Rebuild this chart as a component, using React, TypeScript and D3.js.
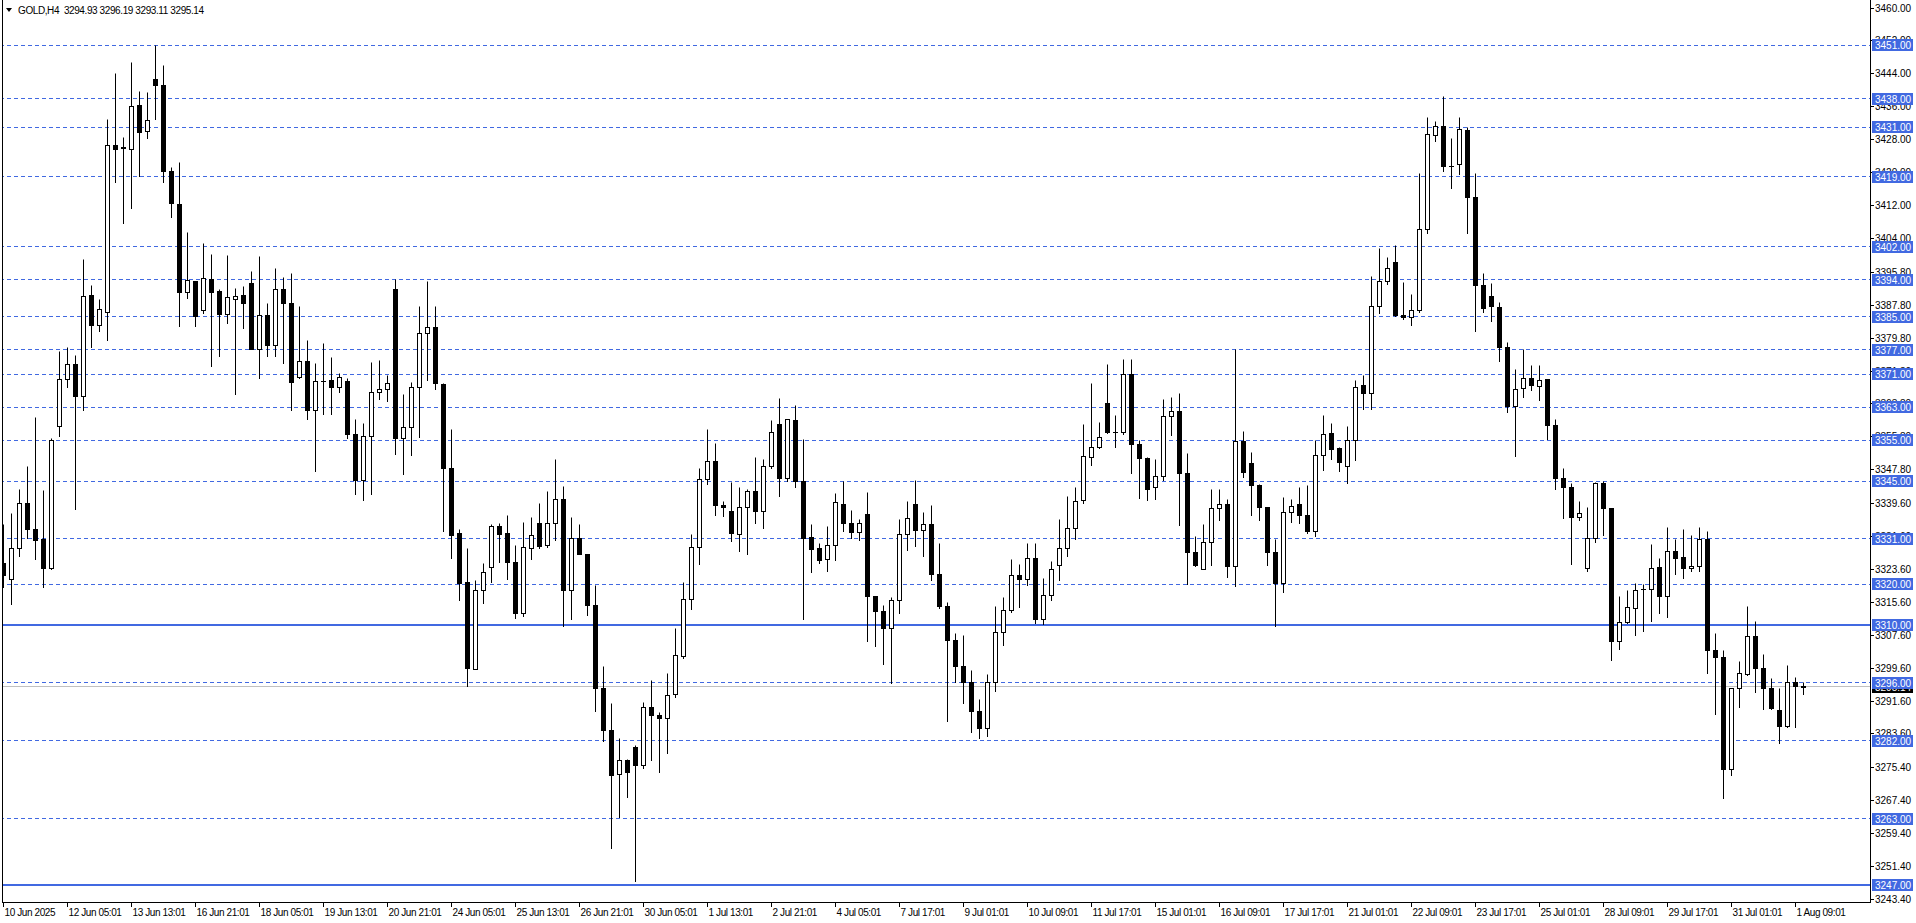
import React from "react";
import * as d3 from "d3";

const opens = [3325.1,3321.1,3328.6,3339.5,3333.2,3330.9,3323.7,3358.2,3369.7,3373.5,3365.5,3390.1,3382.9,3386.0,3426.6,3425.9,3425.7,3436.3,3430.0,3442.7,3441.2,3420.3,3412.2,3390.8,3393.5,3386.4,3394.0,3391.1,3385.6,3389.3,3390.1,3393.0,3377.0,3385.4,3377.9,3391.6,3388.2,3370.2,3374.1,3362.1,3369.2,3369.4,3367.7,3369.2,3356.4,3345.1,3355.8,3366.5,3367.2,3391.6,3355.5,3358.0,3367.7,3380.8,3382.3,3368.6,3348.1,3332.2,3320.5,3299.3,3318.5,3324.1,3334.1,3332.3,3325.3,3312.8,3328.7,3334.8,3329.4,3334.8,3340.6,3318.4,3331.1,3327.1,3314.8,3294.7,3284.5,3273.8,3277.2,3280.3,3275.9,3290.1,3288.1,3287.4,3293.2,3302.4,3316.3,3328.9,3345.5,3349.8,3339.2,3337.7,3332.1,3338.7,3342.5,3337.6,3348.6,3358.8,3345.6,3359.8,3345.0,3331.4,3328.7,3326.0,3329.4,3339.4,3334.8,3332.6,3337.0,3317.0,3313.4,3309.3,3316.0,3332.0,3339.4,3333.0,3334.6,3322.4,3314.6,3306.3,3300.0,3296.0,3289.0,3285.0,3296.0,3308.2,3313.7,3322.2,3321.2,3326.3,3311.3,3317.3,3324.6,3328.7,3333.6,3340.3,3350.7,3353.3,3364.0,3356.9,3356.9,3371.0,3354.0,3350.6,3343.5,3346.1,3360.7,3361.9,3346.9,3327.7,3323.5,3330.2,3338.4,3339.4,3324.2,3354.7,3349.4,3344.0,3338.7,3327.8,3320.1,3337.3,3339.4,3336.7,3332.8,3351.3,3356.7,3352.9,3348.6,3355.0,3368.2,3366.4,3387.5,3393.6,3398.2,3385.4,3384.7,3386.4,3406.2,3429.0,3431.1,3421.6,3421.9,3430.3,3413.9,3392.7,3389.8,3387.3,3377.4,3363.2,3367.5,3369.9,3368.1,3369.7,3358.6,3345.8,3343.5,3336.3,3323.7,3331.1,3344.5,3338.5,3306.1,3310.7,3314.2,3318.7,3318.7,3324.1,3317.1,3328.0,3326.6,3323.8,3324.3,3330.9,3303.8,3302.2,3275.0,3294.7,3298.1,3307.3,3299.5,3294.7,3289.4,3285.5,3296.1,3294.93];
const highs = [3334.4,3337.1,3343.0,3348.5,3360.5,3342.8,3355.3,3376.6,3377.5,3375.6,3398.9,3392.7,3389.2,3433.0,3444.1,3428.5,3446.8,3439.7,3439.6,3451.0,3446.1,3421.3,3422.5,3405.4,3393.5,3402.7,3400.1,3391.7,3399.9,3391.9,3392.4,3396.0,3399.7,3388.2,3396.7,3394.5,3395.6,3387.6,3379.1,3373.6,3378.6,3375.2,3371.3,3370.1,3360.1,3359.1,3373.8,3374.3,3370.8,3394.0,3366.1,3369.0,3387.6,3393.6,3387.6,3368.8,3357.5,3333.2,3328.7,3320.9,3325.1,3334.4,3334.8,3336.8,3329.3,3335.1,3336.1,3339.7,3342.6,3350.2,3343.8,3336.3,3334.6,3327.1,3319.8,3299.9,3290.9,3282.5,3277.4,3280.7,3291.2,3296.7,3288.8,3298.3,3309.3,3320.5,3332.1,3348.0,3357.6,3354.3,3340.1,3344.6,3343.6,3342.9,3350.9,3350.3,3359.8,3365.1,3360.0,3363.5,3355.2,3334.5,3329.9,3333.9,3342.1,3345.0,3338.0,3335.7,3342.4,3317.0,3314.9,3316.8,3335.6,3340.2,3345.3,3337.4,3339.2,3329.8,3315.6,3307.9,3307.6,3299.0,3292.0,3298.0,3314.5,3316.7,3325.9,3324.9,3330.0,3330.0,3321.4,3325.6,3335.8,3341.4,3343.6,3358.9,3368.7,3359.4,3373.5,3361.1,3374.7,3374.5,3354.9,3350.9,3350.2,3364.9,3365.4,3366.4,3351.8,3331.7,3334.5,3342.9,3342.9,3340.6,3377.1,3357.2,3351.9,3344.3,3338.7,3330.8,3341.0,3340.7,3343.6,3343.9,3354.8,3361.1,3359.0,3353.3,3358.2,3369.4,3370.6,3394.8,3401.5,3399.5,3402.2,3393.3,3390.5,3419.9,3433.3,3432.4,3438.6,3428.3,3433.5,3431.0,3419.8,3395.6,3393.0,3388.5,3378.7,3372.1,3377.1,3373.2,3373.1,3369.7,3359.9,3348.0,3344.5,3340.0,3338.6,3344.8,3345.0,3338.5,3317.1,3318.5,3320.1,3320.0,3329.7,3326.2,3333.8,3330.8,3333.3,3331.9,3333.8,3332.7,3308.1,3303.8,3294.7,3301.2,3314.6,3311.0,3302.8,3297.0,3294.7,3300.2,3297.4,3296.19];
const lows = [3319.3,3315.1,3326.8,3331.1,3326.0,3319.3,3323.5,3355.9,3367.7,3338.2,3362.3,3377.5,3381.5,3379.3,3417.7,3407.6,3411.3,3419.0,3428.3,3432.9,3417.7,3409.2,3382.5,3389.5,3382.5,3385.8,3373.0,3375.4,3383.3,3366.0,3382.1,3377.0,3369.9,3375.4,3375.4,3373.6,3362.3,3369.9,3359.9,3347.3,3361.3,3361.3,3366.5,3355.5,3341.9,3340.3,3341.9,3364.9,3364.4,3351.6,3346.6,3351.3,3355.7,3369.5,3367.2,3332.7,3326.3,3316.0,3295.1,3299.3,3315.2,3320.3,3325.2,3321.2,3311.6,3312.1,3325.9,3328.6,3328.9,3330.7,3309.7,3311.5,3327.1,3312.5,3289.0,3281.7,3255.7,3263.2,3268.1,3247.7,3275.1,3277.1,3274.2,3278.8,3292.4,3301.9,3313.8,3324.7,3344.2,3336.6,3336.4,3330.3,3328.0,3327.1,3334.7,3333.5,3348.1,3341.2,3345.0,3343.4,3311.4,3322.8,3325.0,3323.0,3325.7,3332.7,3331.0,3330.6,3306.0,3304.8,3300.4,3295.9,3312.8,3328.1,3329.1,3326.7,3320.9,3314.0,3286.7,3296.0,3291.0,3284.0,3282.5,3283.0,3294.0,3305.0,3313.0,3314.3,3319.7,3310.5,3310.3,3316.1,3321.0,3326.7,3330.9,3339.7,3348.8,3353.0,3356.7,3353.2,3356.3,3346.8,3340.8,3340.3,3340.6,3345.2,3356.1,3334.2,3320.0,3324.3,3323.5,3324.5,3335.4,3321.6,3319.5,3345.9,3336.7,3335.4,3324.5,3309.8,3318.0,3335.1,3334.7,3332.4,3331.5,3347.6,3350.2,3347.3,3344.4,3350.0,3362.4,3362.4,3385.7,3392.8,3385.0,3384.4,3382.9,3385.9,3405.3,3427.5,3420.4,3416.2,3419.5,3405.3,3381.4,3385.9,3383.8,3374.2,3361.7,3351.1,3365.4,3367.1,3364.7,3355.1,3342.9,3336.0,3324.9,3335.5,3323.2,3330.2,3331.9,3301.4,3304.1,3310.5,3307.6,3308.5,3310.9,3312.8,3311.8,3322.3,3321.5,3323.2,3323.0,3298.3,3288.4,3267.9,3273.5,3290.0,3297.9,3293.6,3289.5,3289.5,3281.2,3285.2,3285.2,3293.11];
const closes = [3322.2,3328.6,3339.7,3333.2,3330.7,3323.7,3354.8,3369.7,3373.5,3365.5,3389.8,3382.9,3386.7,3426.6,3425.7,3426.0,3436.0,3429.7,3432.7,3441.1,3420.2,3412.4,3391.0,3393.7,3385.1,3394.2,3391.0,3385.6,3389.6,3390.0,3388.3,3377.0,3385.4,3377.9,3391.6,3388.3,3369.0,3374.2,3362.1,3369.2,3369.2,3367.7,3370.3,3356.4,3345.1,3355.8,3366.5,3367.2,3368.7,3355.5,3358.0,3367.7,3380.8,3382.3,3368.8,3348.1,3331.8,3320.2,3299.4,3318.5,3322.9,3334.1,3332.1,3325.2,3312.8,3328.9,3331.9,3329.1,3334.8,3340.6,3318.4,3331.1,3327.3,3314.8,3294.6,3284.4,3273.4,3277.2,3274.2,3275.9,3290.1,3288.1,3287.4,3293.0,3302.7,3316.3,3328.9,3345.5,3349.8,3339.1,3338.7,3332.3,3338.7,3342.5,3337.6,3348.6,3356.9,3345.6,3360.0,3345.0,3331.0,3328.4,3325.8,3329.4,3339.9,3334.7,3332.6,3334.8,3316.9,3313.4,3309.3,3316.0,3332.0,3336.0,3333.0,3334.5,3322.3,3314.5,3306.3,3300.0,3296.0,3289.0,3285.0,3296.0,3308.3,3313.5,3322.2,3321.2,3326.3,3311.5,3317.3,3323.5,3328.7,3333.6,3340.1,3351.1,3353.3,3355.7,3356.8,3356.9,3371.0,3354.0,3350.5,3343.1,3346.1,3360.8,3361.9,3346.9,3327.7,3324.5,3330.2,3338.4,3339.3,3324.2,3354.7,3347.1,3344.0,3338.7,3327.8,3320.1,3337.4,3338.9,3336.7,3332.7,3351.3,3356.4,3352.8,3349.5,3354.9,3367.9,3366.4,3387.5,3393.6,3396.8,3385.4,3384.7,3386.4,3406.2,3429.3,3431.3,3421.6,3421.6,3430.4,3413.9,3392.7,3387.1,3387.5,3377.4,3363.2,3367.4,3369.9,3368.2,3369.5,3358.6,3345.8,3343.5,3336.3,3337.1,3331.1,3344.5,3338.5,3306.1,3310.7,3314.4,3318.5,3318.7,3323.9,3317.1,3328.0,3326.3,3323.8,3324.3,3330.9,3303.8,3302.2,3274.9,3294.7,3298.3,3307.3,3299.5,3294.7,3289.7,3285.5,3296.1,3295.1,3295.14];

const timeLabels = ["10 Jun 2025","12 Jun 05:01","13 Jun 13:01","16 Jun 21:01","18 Jun 05:01","19 Jun 13:01","20 Jun 21:01","24 Jun 05:01","25 Jun 13:01","26 Jun 21:01","30 Jun 05:01","1 Jul 13:01","2 Jul 21:01","4 Jul 05:01","7 Jul 17:01","9 Jul 01:01","10 Jul 09:01","11 Jul 17:01","15 Jul 01:01","16 Jul 09:01","17 Jul 17:01","21 Jul 01:01","22 Jul 09:01","23 Jul 17:01","25 Jul 01:01","28 Jul 09:01","29 Jul 17:01","31 Jul 01:01","1 Aug 09:01"];
const labelEvery = 8;

const priceTicks = ["3460.00","3452.00","3444.00","3436.00","3428.00","3420.00","3412.00","3404.00","3395.80","3387.80","3379.80","3371.80","3363.80","3355.80","3347.80","3339.60","3331.60","3323.60","3315.60","3307.60","3299.60","3291.60","3283.60","3275.40","3267.40","3259.40","3251.40","3243.40"];

const dashedLevels = [3451, 3438, 3431, 3419, 3402, 3394, 3385, 3377, 3371, 3363, 3355, 3345, 3331, 3320, 3296, 3282, 3263];
const solidLevels = [3310, 3247];
const bidPrice = 3295.14;
const header = ["GOLD,H4", "3294.93", "3296.19", "3293.11", "3295.14"];

const W = 1916, H = 923;
const PLOT_R = 1870, PLOT_B = 902;
const BLUE = "#4169E1";
const FONT = "'Liberation Sans', Arial, sans-serif";

const y = d3.scaleLinear().domain([3451, 3247]).range([45.1, 884.6]);
const x = d3.scaleLinear().domain([0, 225]).range([3.5, 1803.5]);
const px = (v: number) => Math.round(v - 0.5) + 0.5;

export default function App() {
  const n = opens.length;
  const candles = d3.range(n).map((i) => {
    const o = opens[i], c = closes[i], h = highs[i], l = lows[i];
    const cx = x(i);
    const top = px(y(Math.max(o, c)));
    const bot = px(y(Math.min(o, c)));
    const bull = c >= o;
    return (
      <g key={i}>
        <line x1={cx} x2={cx} y1={px(y(h))} y2={px(y(l)) + 0.5} stroke="#000" strokeWidth={1} />
        {bot - top < 1 ? (
          <line x1={cx - 2.5} x2={cx + 2.5} y1={top} y2={top} stroke="#000" strokeWidth={1} />
        ) : (
          <rect x={cx - 2} y={top} width={4} height={bot - top} fill={bull ? "#fff" : "#000"} stroke="#000" strokeWidth={1} />
        )}
      </g>
    );
  });

  return (
    <svg width={W} height={H} style={{ position: "absolute", left: 0, top: 0, background: "#fff" }} fontFamily={FONT}>
      <rect x={0} y={0} width={W} height={H} fill="#fff" />
      <defs>
        <clipPath id="plot"><rect x={3} y={0} width={PLOT_R - 3} height={PLOT_B} /></clipPath>
      </defs>
      <g clipPath="url(#plot)">
        {dashedLevels.map((lv) => (
          <line key={lv} x1={0} x2={PLOT_R} y1={px(y(lv))} y2={px(y(lv))} stroke={BLUE} strokeWidth={1} strokeDasharray="4,3" />
        ))}
        {solidLevels.map((lv) => (
          <line key={lv} x1={0} x2={PLOT_R} y1={Math.round(y(lv))} y2={Math.round(y(lv))} stroke={BLUE} strokeWidth={2} />
        ))}
        <line x1={0} x2={PLOT_R} y1={px(y(bidPrice))} y2={px(y(bidPrice))} stroke="#C0C0C0" strokeWidth={1} />
        {candles}
      </g>
      <line x1={2.5} x2={2.5} y1={0} y2={PLOT_B + 0.5} stroke="#000" />
      <line x1={PLOT_R + 0.5} x2={PLOT_R + 0.5} y1={0} y2={PLOT_B + 0.5} stroke="#000" />
      <line x1={2} x2={PLOT_R + 1} y1={PLOT_B + 0.5} y2={PLOT_B + 0.5} stroke="#000" />
      {priceTicks.map((t) => {
        const yy = px(y(+t));
        return (
          <g key={t}>
            <line x1={PLOT_R + 1} x2={PLOT_R + 4} y1={yy} y2={yy} stroke="#000" />
            <text x={PLOT_R + 5} y={yy + 3.5} fontSize={10} fill="#000">{t}</text>
          </g>
        );
      })}
      {[...dashedLevels, ...solidLevels].map((lv) => {
        const yy = Math.round(y(lv));
        return (
          <g key={"l" + lv}>
            <rect x={PLOT_R + 2} y={yy - 6} width={41} height={12} fill={BLUE} />
            <text x={PLOT_R + 5} y={yy + 3.5} fontSize={10} fill="#fff">{lv.toFixed(2)}</text>
          </g>
        );
      })}
      <g>
        <rect x={PLOT_R + 2} y={Math.round(y(bidPrice)) - 5} width={41} height={12} fill="#000" />
        <text x={PLOT_R + 5} y={Math.round(y(bidPrice)) + 4.5} fontSize={10} fill="#fff">{bidPrice.toFixed(2)}</text>
        <rect x={PLOT_R + 2} y={Math.round(y(3296)) - 6} width={41} height={12} fill={BLUE} />
        <text x={PLOT_R + 5} y={Math.round(y(3296)) + 3.5} fontSize={10} fill="#fff">3296.00</text>
      </g>
      {timeLabels.map((t, j) => {
        const xx = x(j * labelEvery);
        return (
          <g key={t}>
            <line x1={xx} x2={xx} y1={PLOT_B} y2={PLOT_B + 5} stroke="#000" />
            <text x={xx + 1} y={PLOT_B + 14} fontSize={10} letterSpacing={-0.4} fill="#000">{t}</text>
          </g>
        );
      })}
      <path d="M6,8 L12,8 L9,12 Z" fill="#000" />
      <text x={18} y={14} fontSize={10} letterSpacing={-0.4} fill="#000">
        {header[0]}{"\u00A0\u00A0"}{header.slice(1).join(" ")}
      </text>
    </svg>
  );
}
